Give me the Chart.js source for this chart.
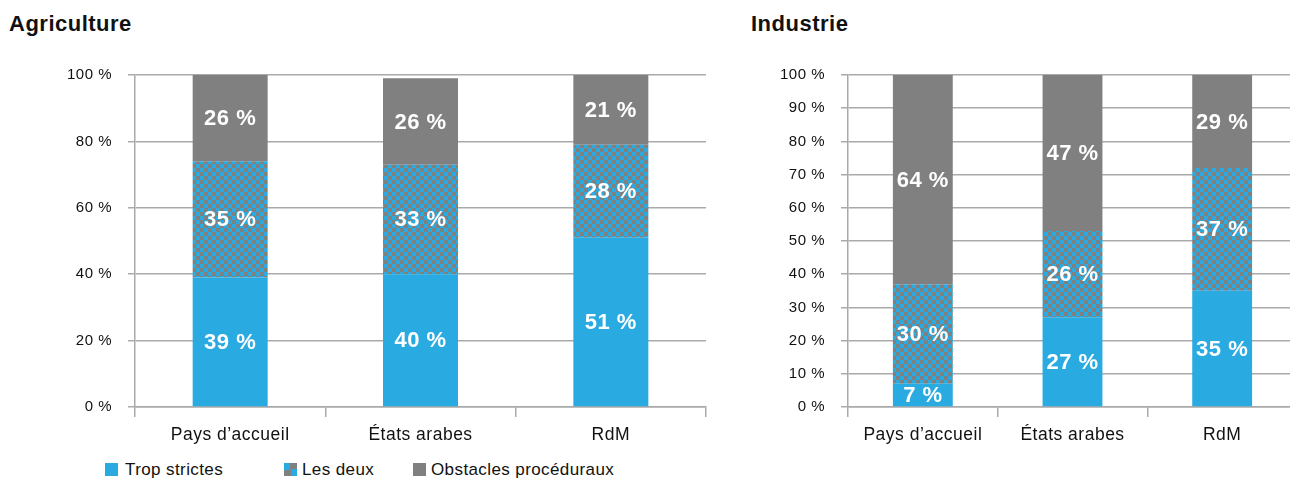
<!DOCTYPE html>
<html lang="fr">
<head>
<meta charset="utf-8">
<title>Agriculture / Industrie</title>
<script src="https://cdn.jsdelivr.net/npm/chart.js@4.4.1/dist/chart.umd.min.js"></script>
<style>
  html, body { margin: 0; padding: 0; background: #fff; overflow: hidden; }
  body { width: 1290px; height: 479px; position: relative; font-family: "Liberation Sans", Arial, sans-serif; color: #111; }
  .titre { position: absolute; top: 13px; font-weight: bold; font-size: 22px; line-height: 1; letter-spacing: 0.5px; }
  .boite { position: absolute; top: 0; height: 450px; }
  #boite-agri { left: 0; width: 730px; }
  #boite-indu { left: 740px; width: 600px; }
  .legende { position: absolute; top: 461px; font-size: 17px; line-height: 18px; letter-spacing: 0.4px; white-space: nowrap; }
  .carre { position: absolute; top: 2px; width: 13px; height: 13px; }
</style>
</head>
<body>
<div class="titre" style="left:9px">Agriculture</div>
<div class="titre" style="left:751px">Industrie</div>
<div class="boite" id="boite-agri"><canvas id="graph-agri"></canvas></div>
<div class="boite" id="boite-indu"><canvas id="graph-indu"></canvas></div>
<div id="legende"></div>
<script>
// Données
const categories = ['Pays d’accueil', 'États arabes', 'RdM'];
const nomsSeries = ['Trop strictes', 'Les deux', 'Obstacles procéduraux'];

const agriTropStrictes = [39, 40, 51];
const agriLesDeux = [35, 33, 28];
const agriObstacles = [26, 26, 21];

const induTropStrictes = [7, 27, 35];
const induLesDeux = [30, 26, 37];
const induObstacles = [64, 47, 29];

const pasAgri = 20;
const pasIndu = 10;

const BLEU = '#29abe2';
const GRIS = '#808080';
const GRILLE = '#aaaaaa';
const POLICE = '"Liberation Sans", Arial, sans-serif';

// Damier bleu/gris pour "Les deux"
const creerDamier = (ctx) => {
    const c = document.createElement('canvas');
    c.width = 8;
    c.height = 8;
    const g = c.getContext('2d');
    g.fillStyle = GRIS;
    g.fillRect(0, 0, 8, 8);
    g.fillStyle = BLEU;
    g.fillRect(0, 0, 4, 4);
    g.fillRect(4, 4, 4, 4);
    return ctx.createPattern(c, 'repeat');
};

// Un peu d'espacement entre les lettres pour tout le texte du canvas
const espacement = {
    id: 'espacement',
    beforeDraw(chart) {
        chart.ctx.letterSpacing = '0.5px';
    }
};

// Pourcentages blancs au centre de chaque segment
const etiquettes = {
    id: 'etiquettes',
    afterDatasetsDraw(chart) {
        const ctx = chart.ctx;
        const zone = chart.chartArea;
        ctx.save();
        ctx.font = 'bold 22px ' + POLICE;
        ctx.fillStyle = '#fff';
        ctx.textAlign = 'center';
        ctx.textBaseline = 'middle';
        chart.data.datasets.forEach((ds, i) => {
            chart.getDatasetMeta(i).data.forEach((barre, j) => {
                const haut = Math.max(barre.y, zone.top);
                ctx.fillText(ds.data[j] + ' %', barre.x, (haut + barre.base) / 2 + 1);
            });
        });
        ctx.restore();
    }
};

const creerGraphique = (id, tropStrictes, lesDeux, obstacles, pas, largeurAxeY, margeDroite, largeurBarre) => {
    const ctx = document.getElementById(id).getContext('2d');
    const commun = { barPercentage: largeurBarre, categoryPercentage: 1, borderWidth: 0 };
    return new Chart(ctx, {
        type: 'bar',
        data: {
            labels: categories,
            datasets: [
                { label: nomsSeries[0], data: tropStrictes, backgroundColor: BLEU, ...commun },
                { label: nomsSeries[1], data: lesDeux, backgroundColor: creerDamier(ctx), ...commun },
                { label: nomsSeries[2], data: obstacles, backgroundColor: GRIS, ...commun }
            ]
        },
        options: {
            responsive: true,
            maintainAspectRatio: false,
            animation: false,
            devicePixelRatio: 1,
            layout: { padding: { top: 75, right: margeDroite, left: 0, bottom: 0 } },
            plugins: {
                legend: { display: false },
                tooltip: { enabled: false }
            },
            scales: {
                x: {
                    stacked: true,
                    grid: { offset: true, drawOnChartArea: false, color: GRILLE, lineWidth: 1.5, tickLength: 10 },
                    border: { color: GRILLE, width: 1.5 },
                    ticks: { color: '#111', padding: 8, font: { family: POLICE, size: 17.5 } },
                    afterFit: (s) => { s.height = 43; }
                },
                y: {
                    stacked: true,
                    min: 0,
                    max: 100,
                    grid: { color: GRILLE, lineWidth: 1.5, tickLength: 7 },
                    border: { color: GRILLE, width: 1.5 },
                    ticks: {
                        stepSize: pas,
                        color: '#111',
                        padding: 16,
                        font: { family: POLICE, size: 15 },
                        callback: (v) => v + ' %'
                    },
                    afterFit: (s) => { s.width = largeurAxeY; }
                }
            }
        },
        plugins: [espacement, etiquettes]
    });
};

creerGraphique('graph-agri', agriTropStrictes, agriLesDeux, agriObstacles, pasAgri, 135, 24, 0.394);
creerGraphique('graph-indu', induTropStrictes, induLesDeux, induObstacles, pasIndu, 108, 43, 0.40);

// Légende sous le premier graphique
const positionsLegende = [105, 284, 413];
const fondsLegende = [
    BLEU,
    `conic-gradient(${GRIS} 25%, ${BLEU} 0 50%, ${GRIS} 0 75%, ${BLEU} 0)`,
    GRIS
];
const legende = document.getElementById('legende');
nomsSeries.forEach((nom, i) => {
    const item = document.createElement('div');
    item.className = 'legende';
    item.style.left = positionsLegende[i] + 'px';
    const carre = document.createElement('span');
    carre.className = 'carre';
    carre.style.left = '0px';
    carre.style.background = fondsLegende[i];
    const texte = document.createElement('span');
    texte.textContent = nom;
    texte.style.marginLeft = (i === 0 ? 20 : 18) + 'px';
    item.appendChild(carre);
    item.appendChild(texte);
    legende.appendChild(item);
});
</script>
</body>
</html>
